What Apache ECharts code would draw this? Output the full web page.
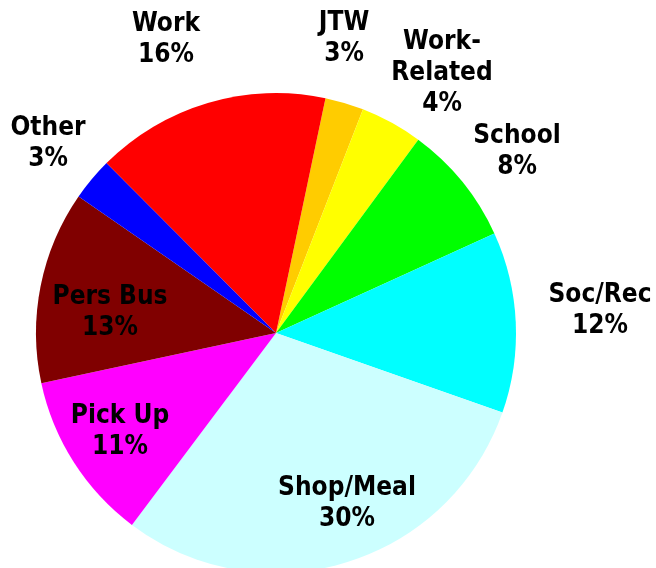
<!DOCTYPE html>
<html>
<head>
<meta charset="utf-8">
<script src="https://cdn.jsdelivr.net/npm/echarts@6/dist/echarts.min.js"></script>
<style>
  html, body { margin: 0; padding: 0; background: #fff; }
  #chart { width: 656px; height: 568px; }
</style>
</head>
<body>
<div id="chart"></div>
<script>
// trip purposes, clockwise from the top
const categories = ['JTW', 'Work-Related', 'School', 'Soc/Rec', 'Shop/Meal', 'Pick Up', 'Pers Bus', 'Other', 'Work']
const shares = [2.6, 4.2, 8.1, 12.2, 29.9, 11.4, 13.0, 2.9, 15.8]
const colors = ['#FFCC00', '#FFFF00', '#00FF00', '#00FFFF', '#CCFFFF', '#FF00FF', '#800000', '#0000FF', '#FF0000']

// where each label block sits (centre of text)
const labelAt = {
    'JTW': [344, 39],
    'Work-Related': [442, 73],
    'School': [517, 152],
    'Soc/Rec': [600, 311],
    'Shop/Meal': [347, 504],
    'Pick Up': [120, 432],
    'Pers Bus': [110, 313],
    'Other': [48, 144],
    'Work': [166, 40]
}

let chart = echarts.init(document.getElementById('chart'))

const option = {
    animation: false,
    color: colors,
    series: [{
        type: 'pie',
        center: [276, 333],
        radius: 240,
        startAngle: 78.1,
        clockwise: true,
        percentPrecision: 0,
        avoidLabelOverlap: false,
        itemStyle: {
            borderWidth: 0
        },
        label: {
            show: true,
            position: 'inside',
            color: '#000',
            fontFamily: '"DejaVu Sans Condensed", "DejaVu Sans", sans-serif',
            fontWeight: 'bold',
            fontSize: 26,
            lineHeight: 31,
            align: 'center',
            formatter: function (p) {
                return p.name.replace('-', '-\n') + '\n' + p.percent + '%'
            }
        },
        labelLine: { show: false },
        labelLayout: function (params) {
            let pos = labelAt[categories[params.dataIndex]]
            return {
                x: pos[0],
                y: pos[1],
                align: 'center',
                verticalAlign: 'middle'
            }
        },
        emphasis: { disabled: true },
        data: categories.map((name, i) => ({ name: name, value: shares[i] }))
    }]
}

chart.setOption(option)
</script>
</body>
</html>
